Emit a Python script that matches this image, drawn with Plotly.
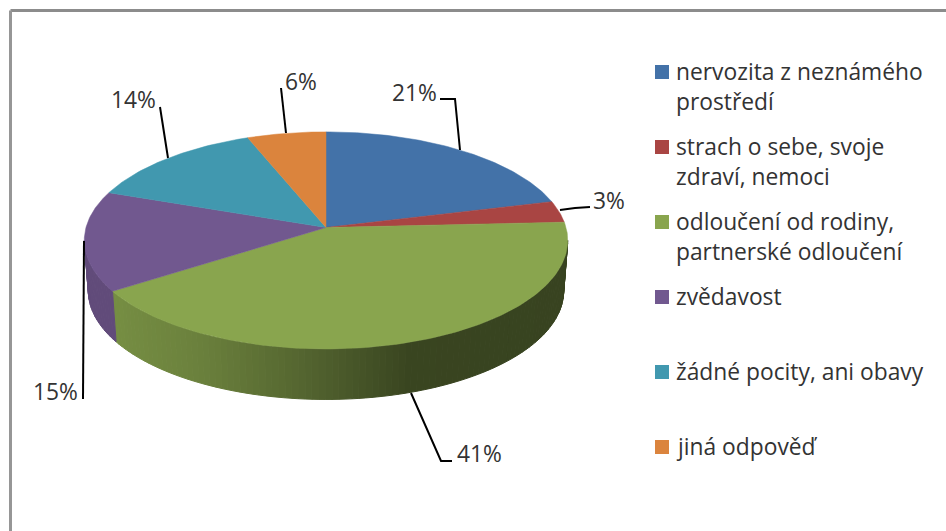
import numpy as np
import plotly.graph_objects as go

categories = ["nervozita z neznámého prostředí", "strach o sebe, svoje zdraví, nemoci",
              "odloučení od rodiny, partnerské odloučení", "zvědavost",
              "žádné pocity, ani obavy", "jiná odpověď"]
legend_lines = [["nervozita z neznámého", "prostředí"], ["strach o sebe, svoje", "zdraví, nemoci"],
                ["odloučení od rodiny,", "partnerské odloučení"], ["zvědavost"],
                ["žádné pocity, ani obavy"], ["jiná odpověď"]]
values = [21.0, 3.2, 41.4, 14.9, 13.6, 5.9]
value_labels = ["21%", "3%", "41%", "15%", "14%", "6%"]
colors = ["#4372A8", "#A94543", "#89A54E", "#71588F", "#4198AF", "#DB843D"]

# drawing geometry of the tilted disc (pixel canvas)
CX, CY, A, B, K, DEPTH, A_LOW = 326, 227.5, 240, 107.0, 0.119, 50.5, 236
FONT = "Open Sans"
FS = 22.8
TXT = "#333333"


def project(theta, a=A, dy=0.0):
    t = np.cos(theta)
    w = 1 + K * t
    return CX + a * np.sin(theta) / w, CY + dy - B * t / w


def mix(c, f):
    r, g, b = int(c[1:3], 16), int(c[3:5], 16), int(c[5:7], 16)
    return f"rgb({int(r*f)},{int(g*f)},{int(b*f)})"


total = sum(values)
edges = np.cumsum([0] + values) / total * 2 * np.pi
fig = go.Figure()

# side wall (front-facing part only), shaded left to right
for i, col in enumerate(colors):
    lo = max(edges[i], np.arccos(-K))
    hi = min(edges[i + 1], 2 * np.pi - np.arccos(-K))
    if hi <= lo:
        continue
    n = max(2, int((hi - lo) / 0.025))
    th = np.linspace(lo, hi, n + 1)
    for a0, a1 in zip(th[:-1], th[1:]):
        x0, y0 = project(a0)
        x1, y1 = project(a1)
        x2, y2 = project(a1, A_LOW, DEPTH)
        x3, y3 = project(a0, A_LOW, DEPTH)
        xm = (x0 + x1) / 2
        f = np.interp(xm, [90, 115, 200, 300, 410, 570], [0.86, 0.86, 0.78, 0.62, 0.42, 0.41])
        c = mix(col, f)
        fig.add_trace(go.Scatter(x=[x0, x1, x2, x3, x0], y=[y0, y1, y2, y3, y0], mode="lines",
                                 fill="toself", fillcolor=c, line=dict(color=c, width=1),
                                 hoverinfo="skip", showlegend=False))

# top face
for i, (name, col, lab) in enumerate(zip(categories, colors, value_labels)):
    th = np.linspace(edges[i], edges[i + 1], max(8, int(values[i] * 4)))
    xs, ys = project(th)
    fig.add_trace(go.Scatter(x=np.r_[CX, xs, CX], y=np.r_[CY, ys, CY], mode="lines", fill="toself",
                             fillcolor=col, line=dict(color=col, width=0.5), name=name,
                             hovertemplate=f"{name}: {lab}<extra></extra>", showlegend=False))

# leader lines and data labels
leaders = [([440, 455, 460], [99, 99, 150]), ([590, 575, 560], [207, 208, 210]),
           ([452, 441, 411], [461, 461, 393]), ([83, 84], [399, 241]),
           ([160, 168], [107, 158]), ([281, 286], [88, 133])]
label_pos = [(414, 92), (609, 200), (479, 453), (55, 391), (133, 99), (301, 81)]
for (lx, ly), (tx, ty), lab in zip(leaders, label_pos, value_labels):
    fig.add_trace(go.Scatter(x=lx, y=ly, mode="lines", line=dict(color="black", width=2),
                             hoverinfo="skip", showlegend=False))
    fig.add_annotation(x=tx, y=ty, text=lab, showarrow=False,
                       font=dict(family=FONT, size=FS, color=TXT))

# legend
legend_y = [72, 147, 222, 297, 372, 447]
fig.add_trace(go.Scatter(x=[662] * 6, y=legend_y, mode="markers",
                         marker=dict(symbol="square", size=14, color=colors), hoverinfo="skip",
                         showlegend=False))
for ly, lines in zip(legend_y, legend_lines):
    for j, line in enumerate(lines):
        fig.add_annotation(x=674, y=ly - 1 + j * 30, text=line, showarrow=False, xanchor="left",
                           font=dict(family=FONT, size=FS, color=TXT))

fig.update_layout(width=946, height=531, margin=dict(l=0, r=0, t=0, b=0),
                  paper_bgcolor="white", plot_bgcolor="white",
                  xaxis=dict(range=[0, 946], visible=False),
                  yaxis=dict(range=[531, 0], visible=False),
                  shapes=[dict(type="line", x0=10.5, x1=946, y0=10.5, y1=10.5, line=dict(color="#8c8c8c", width=3)),
                          dict(type="line", x0=10.5, x1=10.5, y0=10.5, y1=531, line=dict(color="#969696", width=3))])
fig.write_html("out.html", config=dict(displayModeBar=False),
               post_script="document.body.style.margin='0';document.body.style.overflow='hidden';")
